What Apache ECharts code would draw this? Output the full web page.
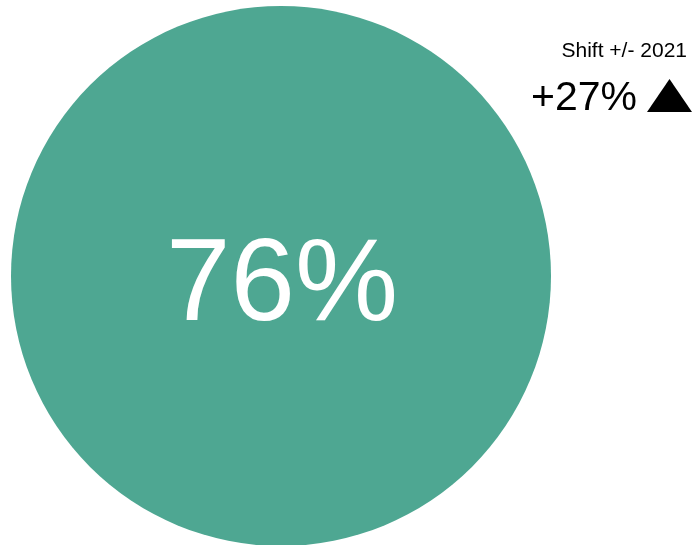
<!DOCTYPE html>
<html><head><meta charset="utf-8">
<script src="https://cdn.jsdelivr.net/npm/echarts@6/dist/echarts.min.js"></script>
<style>html,body{margin:0;padding:0;background:#fff}#c{width:692px;height:545px}</style>
</head><body><div id="c"></div>
<script>
const categories = ['Share'];
const values = [76];
const shiftLabel = 'Shift +/- 2021';
const shiftValues = [27];

const chart = echarts.init(document.getElementById('c'));
chart.setOption({
  animation: false,
  series: [{
    type: 'pie',
    center: [281, 276],
    radius: [0, 270],
    silent: true,
    emphasis: { scale: false },
    itemStyle: { color: '#4ea792' },
    label: {
      show: true, position: 'center',
      formatter: p => p.value + '%',
      fontFamily: 'Liberation Sans, Arial', fontSize: 116, color: '#fff',
      offset: [1, 12]
    },
    labelLine: { show: false },
    data: categories.map((c, i) => ({ name: c, value: values[i] }))
  }],
  graphic: [
    { type: 'text', right: 5, top: 41, style: { text: shiftLabel, font: '21px "Liberation Sans", Arial', fill: '#000' } },
    { type: 'text', left: 531, top: 78, style: { text: '+' + shiftValues[0] + '%', font: '41px "Liberation Sans", Arial', fill: '#000' } },
    { type: 'polygon', shape: { points: [[647, 112], [669.5, 79], [692, 112]] }, style: { fill: '#000' } }
  ]
});
</script></body></html>
